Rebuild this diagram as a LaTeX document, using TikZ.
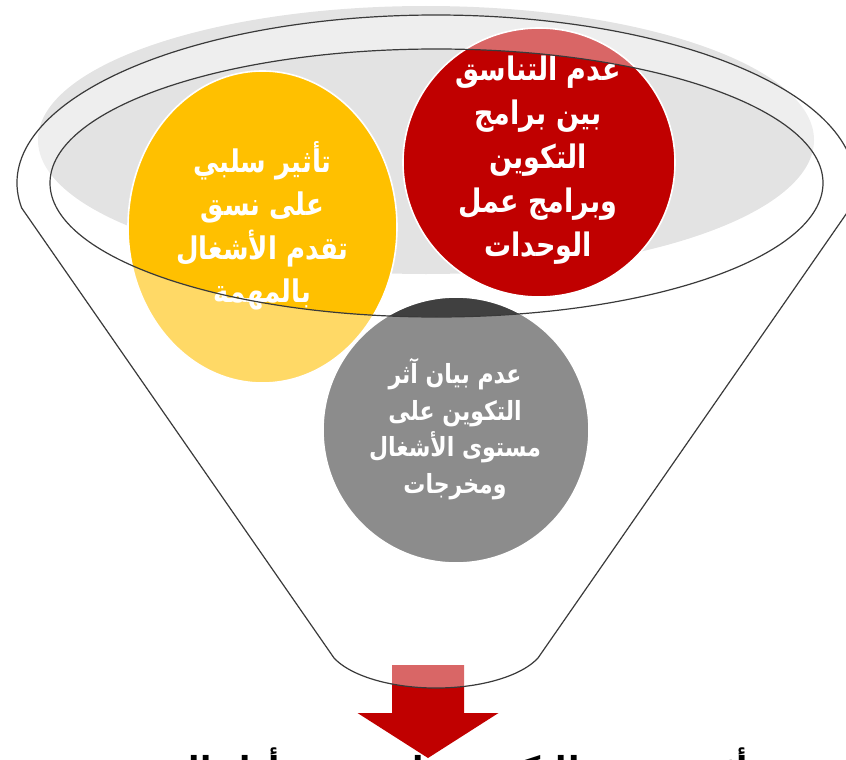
\documentclass[tikz,border=0pt]{standalone}
\usepackage{fontspec}
\usepackage{graphicx}
\newfontfamily\arabicfont[Script=Arabic]{DejaVu Sans}
\TeXXeTstate=1
\newcommand{\arl}[1]{\scalebox{1}[1.2]{\beginR #1\endR}}
\newcommand{\arplain}[1]{\beginR #1\endR}
\definecolor{cyellow}{HTML}{FFC000}
\definecolor{cred}{HTML}{C00000}
\definecolor{cdark}{HTML}{404040}
\definecolor{bgrey}{HTML}{E3E3E3}
\definecolor{lgrey}{HTML}{3A3A3A}
\tikzset{
  bubble/.style={draw=white, line width=1.6pt},
  bigtxt/.style={text=white, align=center, inner sep=0pt,
    font=\arabicfont\bfseries\fontsize{26}{43.5}\selectfont},
  redtxt/.style={text=white, align=center, inner sep=0pt,
    font=\arabicfont\bfseries\fontsize{27}{44}\selectfont},
  smalltxt/.style={text=white, align=center, inner sep=0pt,
    font=\arabicfont\bfseries\fontsize{22}{36.5}\selectfont},
  funnelline/.style={draw=lgrey, line width=1.2pt},
}
\begin{document}
\lineskiplimit=-100pt
\begin{tikzpicture}[x=1pt,y=-1pt]
\useasboundingbox (0,0) rectangle (846,760);
\begin{scope}
\clip (0,0) rectangle (846,760);
% background grey disc
\fill[bgrey] (426,140) ellipse [x radius=388, y radius=134];
% bubbles
\draw[bubble, fill=cyellow] (262.5,227) ellipse [x radius=134.5, y radius=156];
\draw[bubble, fill=cred] (539,162.5) ellipse [x radius=136, y radius=134.5];
\draw[bubble, fill=cdark] (456,430) circle [radius=133];
% arrow
\fill[cred] (392,665) -- (464,665) -- (464,713) -- (498.5,713) -- (428,758)
  -- (357.5,713) -- (392,713) -- cycle;
% texts
\node[bigtxt] (ty) at (262.5,226) {\arl{تأثير سلبي}\\\arl{على نسق}\\\arl{تقدم الأشغال}\\\arl{بالمهمة}};
\node[redtxt] (tr) at (538,160) {\arl{عدم التناسق}\\\arl{بين برامج}\\\arl{التكوين}\\\arl{وبرامج عمل}\\\arl{الوحدات}};
\node[smalltxt] (tg) at (455,429) {\arl{عدم بيان آثر}\\\arl{التكوين على}\\\arl{مستوى الأشغال}\\\arl{ومخرجات}};
% translucent funnel body
\fill[white, fill opacity=0.4, even odd rule]
  (21.7,208) arc [start angle=171.44, end angle=368.56, x radius=419, y radius=168]
  -- (538,658) arc [start angle=22, end angle=158, x radius=110, y radius=48] -- cycle
  (436.5,183) ellipse [x radius=386.5, y radius=134];
% funnel outlines
\draw[funnelline]
  (21.7,208) arc [start angle=171.44, end angle=368.56, x radius=419, y radius=168]
  -- (538,658) arc [start angle=22, end angle=158, x radius=110, y radius=48] -- cycle;
\draw[funnelline] (436.5,183) ellipse [x radius=386.5, y radius=134];
% bottom caption (cut off by the frame, as in the reference)
\node[anchor=base, text=black, inner sep=0pt,
  font=\arabicfont\bfseries\fontsize{33}{38}\selectfont] (cap) at (425,780)
  {\arplain{أثر محدود للتكوين على نسق أداء المهمة}};
\end{scope}
\end{tikzpicture}
\end{document}
